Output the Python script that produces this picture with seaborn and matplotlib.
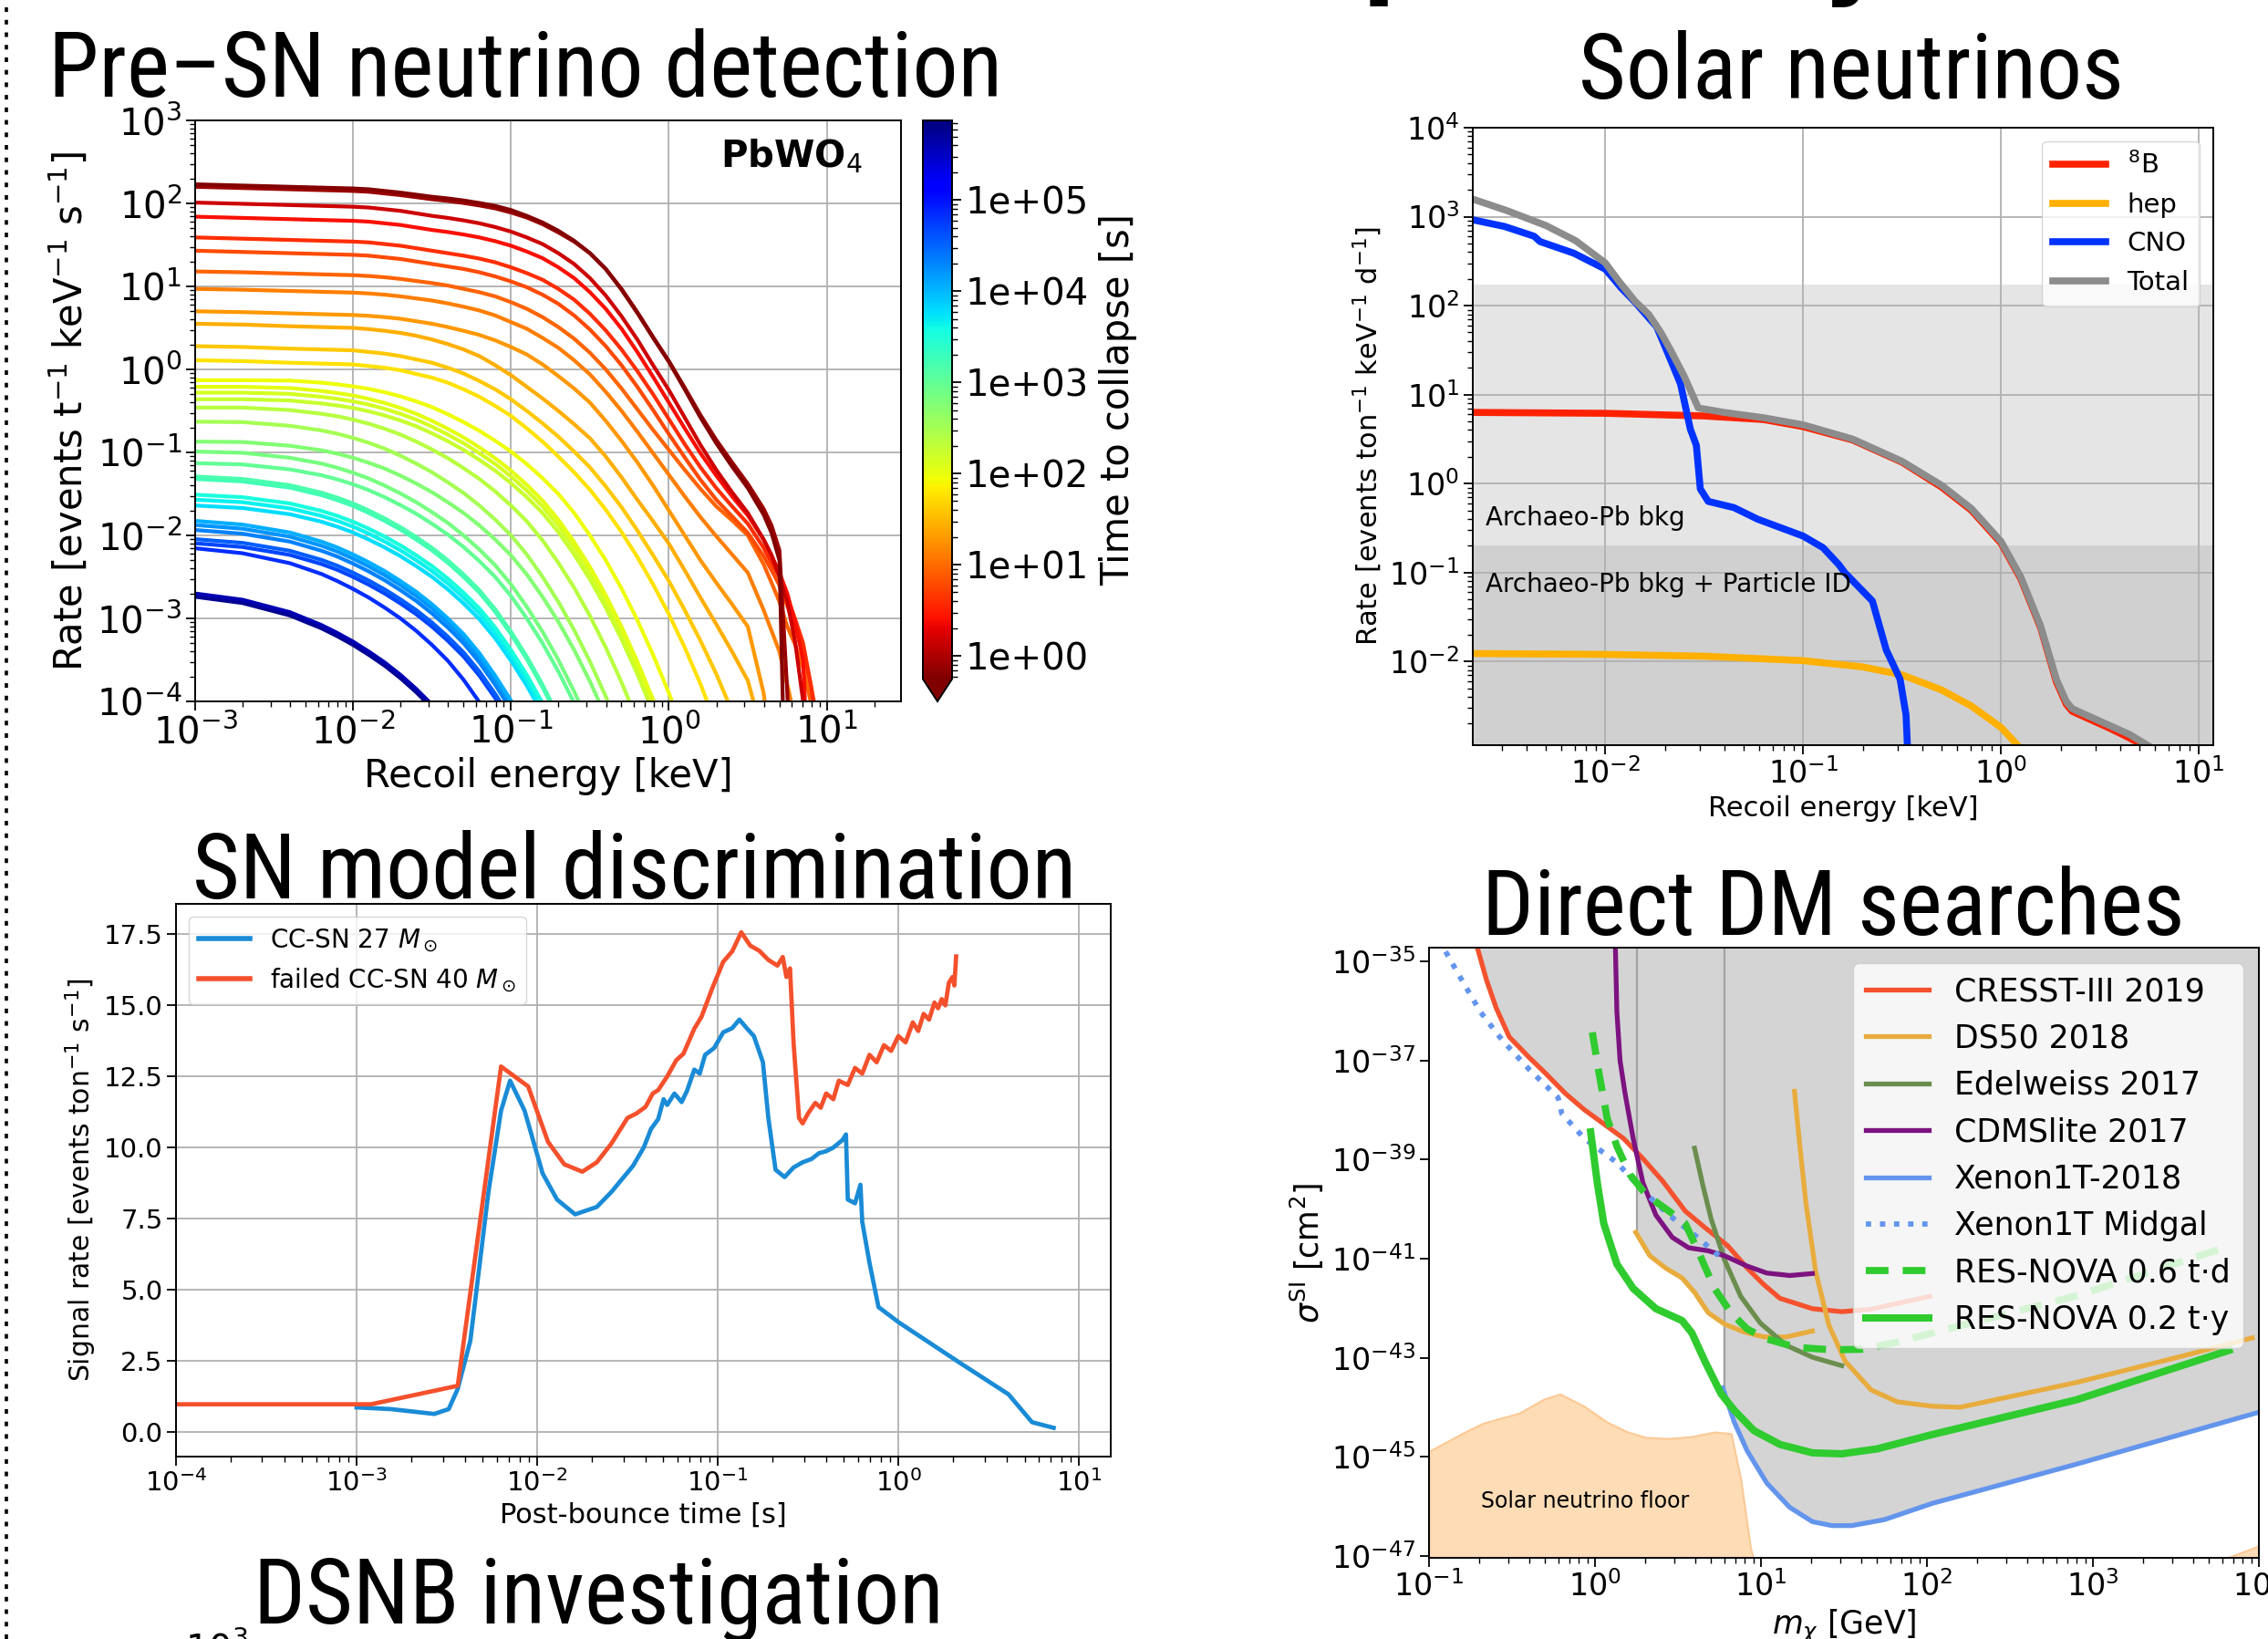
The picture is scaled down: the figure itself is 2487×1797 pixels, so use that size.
import numpy as np
import matplotlib
matplotlib.use("Agg")
import matplotlib.pyplot as plt
import seaborn as sns
from matplotlib import font_manager as fm
from matplotlib.colors import LogNorm
from matplotlib.cm import ScalarMappable
from matplotlib.lines import Line2D
import matplotlib.ticker as mticker

# ------------------------------------------------------------------ data
# Panel 1: Pre-SN neutrino detection
# log10 recoil energy grid [keV]
presn_logE = [-3.0, -2.7, -2.4, -2.2, -2.1, -2.0, -1.9, -1.8, -1.7, -1.6, -1.5, -1.4, -1.3, -1.2, -1.1,
              -1.0, -0.9, -0.8, -0.7, -0.6, -0.5, -0.4, -0.3, -0.2, -0.1, 0.0, 0.1, 0.2, 0.3, 0.4, 0.5,
              0.6, 0.65, 0.7, 0.75, 0.8, 0.85, 0.9, 0.95]
# time to collapse [s] of each curve (colour)
presn_times = [0.6, 0.8, 1.5, 2.5, 4, 6, 9, 13, 20, 28, 40, 60, 90, 110, 140, 180, 230, 330, 550, 700,
               1000, 1500, 1800, 3500, 4500, 6000, 1.2e4, 1.6e4, 2.2e4, 3.5e4, 5e4, 7e4, 4e5, 6e5]
# log10 of the low-energy plateau rate of each curve
presn_plateau = [2.23, 2.20, 2.01, 1.84, 1.59, 1.43, 1.18, 0.97, 0.70, 0.55, 0.28, 0.11, -0.13, -0.21,
                 -0.28, -0.36, -0.46, -0.63, -0.87, -0.99, -1.13, -1.29, -1.32, -1.51, -1.57, -1.64,
                 -1.82, -1.87, -1.93, -2.04, -2.09, -2.14, -2.67, -2.71]
# log10 drop below the plateau, read along the energy grid
drop_c1 = [0, -.015, -.03, -.04, -.045, -.05, -.06, -.08, -.10, -.125, -.15, -.17, -.195, -.225, -.26, -.31,
           -.38, -.46, -.56, -.68, -.83, -1.02, -1.27, -1.55, -1.85, -2.14, -2.47, -2.81, -3.12, -3.40, -3.66,
           -3.98, -4.2, -4.53, -8.5]
drop_c2 = [0, -.015, -.03, -.04, -.045, -.05, -.06, -.08, -.10, -.125, -.15, -.17, -.195, -.225, -.26, -.31,
           -.37, -.45, -.55, -.66, -.80, -.99, -1.23, -1.51, -1.81, -2.10, -2.42, -2.75, -3.05, -3.32, -3.58,
           -3.88, -4.08, -4.38, -6.1, -8.5]
drop_c3 = [0, -.015, -.03, -.04, -.045, -.05, -.06, -.08, -.10, -.13, -.16, -.185, -.215, -.25, -.295, -.35,
           -.42, -.50, -.61, -.74, -.91, -1.12, -1.37, -1.65, -1.96, -2.26, -2.59, -2.92, -3.22, -3.49, -3.74,
           -4.06, -4.25, -4.51, -4.81, -5.3, -6.01, -8.5]
drop_c4 = [0, -.015, -.03, -.04, -.045, -.05, -.06, -.08, -.10, -.13, -.16, -.185, -.215, -.25, -.295, -.35,
           -.42, -.50, -.61, -.74, -.91, -1.11, -1.35, -1.63, -1.93, -2.24, -2.55, -2.85, -3.12, -3.37, -3.6,
           -3.89, -4.08, -4.29, -4.54, -4.9, -5.34, -7.5]
drop_c5 = [0, -.015, -.03, -.04, -.045, -.05, -.06, -.08, -.10, -.13, -.16, -.19, -.22, -.255, -.30, -.36,
           -.43, -.51, -.62, -.75, -.92, -1.12, -1.35, -1.61, -1.89, -2.19, -2.49, -2.77, -3.02, -3.24, -3.45,
           -3.74, -3.92, -4.09, -4.34, -4.6, -4.89, -5.4, -6.09]
drop_c6 = [0, -.015, -.03, -.04, -.045, -.05, -.06, -.08, -.10, -.13, -.16, -.19, -.22, -.26, -.31, -.37,
           -.44, -.53, -.64, -.78, -.95, -1.15, -1.38, -1.64, -1.92, -2.21, -2.49, -2.76, -3.0, -3.2, -3.4,
           -3.68, -3.85, -4.03, -4.28, -4.55, -4.83, -5.25, -5.73]
drop_c7 = [0, -.01, -.025, -.035, -.04, -.045, -.055, -.07, -.09, -.115, -.14, -.17, -.21, -.25, -.30, -.37,
           -.45, -.55, -.67, -.81, -.98, -1.18, -1.41, -1.66, -1.91, -2.15, -2.39, -2.62, -2.83, -3.0, -3.18,
           -3.53, -3.75, -3.98, -4.28, -4.5, -4.78, -5.2, -5.68]
drop_c8 = [0, -.01, -.025, -.035, -.04, -.045, -.055, -.07, -.09, -.115, -.14, -.175, -.215, -.26, -.32, -.40,
           -.48, -.59, -.71, -.86, -1.03, -1.24, -1.47, -1.72, -1.98, -2.24, -2.5, -2.75, -2.98, -3.2, -3.42,
           -3.87, -4.12, -4.37, -4.77, -5.2, -5.57, -7]
drop_c9 = [0, -.01, -.025, -.035, -.04, -.045, -.055, -.07, -.09, -.12, -.15, -.19, -.235, -.285, -.35, -.43,
           -.52, -.64, -.78, -.93, -1.10, -1.32, -1.56, -1.82, -2.1, -2.40, -2.70, -3.0, -3.27, -3.53, -3.8,
           -4.6, -5.3, -7]
drop_c10 = [0, -.01, -.03, -.04, -.045, -.05, -.065, -.085, -.11, -.145, -.19, -.245, -.31, -.39, -.50, -.62,
            -.76, -.90, -1.05, -1.21, -1.38, -1.60, -1.85, -2.12, -2.38, -2.65, -2.97, -3.30, -3.62, -3.95,
            -4.3, -5.0, -7]
drop_c11 = [0, -.01, -.03, -.04, -.045, -.05, -.07, -.09, -.12, -.16, -.20, -.26, -.33, -.42, -.52, -.64,
            -.78, -.93, -1.09, -1.27, -1.46, -1.69, -1.94, -2.22, -2.52, -2.83, -3.18, -3.55, -3.95, -4.4, -6]
drop_c12 = [0, -.01, -.03, -.04, -.045, -.05, -.07, -.09, -.12, -.165, -.21, -.27, -.35, -.44, -.55, -.67,
            -.82, -.98, -1.16, -1.35, -1.56, -1.80, -2.07, -2.37, -2.70, -3.06, -3.46, -3.90, -4.4, -6]
drop_k10 = [0, 0, -.005, -.03, -.05, -.075, -.105, -.145, -.195, -.255, -.325, -.41, -.505, -.61, -.73, -.86,
            -1.01, -1.18, -1.37, -1.60, -1.87, -2.17, -2.51, -2.89, -3.31, -3.77, -4.27, -4.81]
drop_k11 = [0, 0, -.015, -.05, -.075, -.105, -.145, -.195, -.255, -.325, -.41, -.505, -.61, -.73, -.86, -1.01,
            -1.18, -1.37, -1.60, -1.87, -2.17, -2.51, -2.89, -3.31, -3.77, -4.27, -4.81]
drop_k12 = [0, 0, -.03, -.075, -.105, -.145, -.195, -.255, -.325, -.41, -.505, -.61, -.73, -.86, -1.01, -1.18,
            -1.37, -1.60, -1.87, -2.17, -2.51, -2.89, -3.31, -3.77, -4.27, -4.81]
drop_k13 = [0, -.005, -.05, -.105, -.145, -.195, -.255, -.325, -.41, -.505, -.61, -.73, -.86, -1.01, -1.18,
            -1.37, -1.60, -1.87, -2.17, -2.51, -2.89, -3.31, -3.77, -4.27, -4.81]
drop_k14 = [0, -.015, -.075, -.145, -.195, -.255, -.325, -.41, -.505, -.61, -.73, -.86, -1.01, -1.18, -1.37,
            -1.60, -1.87, -2.17, -2.51, -2.89, -3.31, -3.77, -4.27, -4.81]
drop_k15 = [0, -.03, -.105, -.195, -.255, -.325, -.41, -.505, -.61, -.73, -.86, -1.01, -1.18, -1.37, -1.60,
            -1.87, -2.17, -2.51, -2.89, -3.31, -3.77, -4.27, -4.81]
drop_k16 = [-.005, -.05, -.145, -.255, -.325, -.41, -.505, -.61, -.73, -.86, -1.01, -1.18, -1.37, -1.60, -1.87,
            -2.17, -2.51, -2.89, -3.31, -3.77, -4.27, -4.81]
drop_k17 = [-.015, -.075, -.195, -.325, -.41, -.505, -.61, -.73, -.86, -1.01, -1.18, -1.37, -1.60, -1.87, -2.17,
            -2.51, -2.89, -3.31, -3.77, -4.27, -4.81]
drop_k18 = [-.03, -.105, -.255, -.41, -.505, -.61, -.73, -.86, -1.01, -1.18, -1.37, -1.60, -1.87, -2.17, -2.51,
            -2.89, -3.31, -3.77, -4.27, -4.81]
presn_drops = [drop_c1, drop_c2, drop_c3, drop_c4, drop_c5, drop_c6, drop_c7, drop_c8, drop_c9, drop_c10,
               drop_c11, drop_c12, drop_k10, drop_k11, drop_k11, drop_k11, drop_k12, drop_k13, drop_k13,
               drop_k14, drop_k14, drop_k15, drop_k15, drop_k15, drop_k15, drop_k15, drop_k16, drop_k16,
               drop_k16, drop_k16, drop_k16, drop_k17, drop_k18, drop_k18]
cbar_ticks = [1, 10, 100, 1e3, 1e4, 1e5]
cbar_ticklabels = ["1e+00", "1e+01", "1e+02", "1e+03", "1e+04", "1e+05"]

# Panel 2: Solar neutrinos (log10 E [keV], log10 rate)
b8_logE = [-2.66, -2.0, -1.5, -1.2, -1.0, -0.75, -0.5, -0.3, -0.15, 0.0, 0.1, 0.2, 0.28, 0.33, 0.36, 0.45, 0.55, 0.65, 0.74]
b8_logR = [0.80, 0.79, 0.76, 0.72, 0.64, 0.49, 0.24, -0.04, -0.30, -0.67, -1.07, -1.62, -2.23, -2.48, -2.56, -2.65, -2.75, -2.86, -2.97]
hep_logE = [-2.66, -2.0, -1.5, -1.0, -0.7, -0.5, -0.3, -0.15, 0.0, 0.1]
hep_logR = [-1.91, -1.92, -1.94, -1.99, -2.06, -2.15, -2.32, -2.50, -2.74, -2.98]
cno_logE = [-2.66, -2.51, -2.36, -2.33, -2.16, -2.0, -1.92, -1.85, -1.74, -1.67, -1.62, -1.57, -1.54, -1.52,
            -1.48, -1.35, -1.23, -1.0, -0.9, -0.82, -0.79, -0.65, -0.58, -0.51, -0.48, -0.47]
cno_logR = [2.96, 2.89, 2.78, 2.72, 2.59, 2.41, 2.20, 2.04, 1.76, 1.39, 1.12, 0.61, 0.43, -0.06,
            -0.20, -0.27, -0.40, -0.59, -0.72, -0.91, -1.0, -1.32, -1.87, -2.2, -2.6, -3.1]
total_logE = [-2.66, -2.5, -2.3, -2.15, -2.0, -1.93, -1.85, -1.78, -1.72, -1.67, -1.6, -1.53, -1.4, -1.2, -1.0,
              -0.75, -0.5, -0.3, -0.15, 0.0, 0.1, 0.2, 0.28, 0.33, 0.36, 0.45, 0.55, 0.65, 0.74]
total_logR = [3.19, 3.07, 2.9, 2.73, 2.48, 2.27, 2.05, 1.9, 1.7, 1.5, 1.2, 0.85, 0.8, 0.74, 0.66,
              0.5, 0.25, -0.02, -0.28, -0.65, -1.05, -1.6, -2.2, -2.45, -2.53, -2.62, -2.72, -2.82, -2.94]
bkg_levels = [172.0, 0.2]

# Panel 3: SN model discrimination (log10 t [s], rate)
ccsn27_logt = [-3.0, -2.81, -2.57, -2.49, -2.44, -2.37, -2.27, -2.20, -2.15, -2.07, -1.97, -1.89, -1.79, -1.67,
               -1.59, -1.47, -1.41, -1.37, -1.33, -1.30, -1.28, -1.24, -1.20, -1.17, -1.13, -1.10, -1.07, -1.02,
               -0.97, -0.92, -0.88, -0.84, -0.80, -0.75, -0.72, -0.68, -0.63, -0.58, -0.53, -0.48, -0.44, -0.40,
               -0.36, -0.31, -0.29, -0.28, -0.24, -0.21, -0.20, -0.16, -0.11, 0.0, 0.34, 0.61, 0.74, 0.86]
ccsn27_rate = [0.86, 0.80, 0.63, 0.80, 1.51, 3.21, 8.43, 11.3, 12.35, 11.3, 9.09, 8.17, 7.65, 7.91,
               8.43, 9.35, 10.0, 10.65, 11.0, 11.7, 11.5, 11.9, 11.6, 12.0, 12.74, 12.6, 13.26, 13.5,
               14.05, 14.2, 14.50, 14.2, 13.92, 13.0, 11.04, 9.22, 8.96, 9.3, 9.48, 9.6, 9.8, 9.87,
               10.0, 10.26, 10.46, 8.17, 8.04, 8.69, 7.39, 5.95, 4.39, 3.86, 2.43, 1.32, 0.34, 0.14]
ccsn40_logt = [-4.0, -2.92, -2.44, -2.20, -2.05, -1.94, -1.85, -1.75, -1.67, -1.59, -1.50, -1.45, -1.40, -1.36,
               -1.33, -1.28, -1.23, -1.19, -1.13, -1.09, -1.03, -0.97, -0.92, -0.87, -0.82, -0.77, -0.72, -0.67,
               -0.64, -0.62, -0.60, -0.58, -0.55, -0.53, -0.50, -0.46, -0.43, -0.40, -0.36, -0.33, -0.28, -0.24,
               -0.20, -0.16, -0.12, -0.08, -0.04, 0.0, 0.04, 0.08, 0.11, 0.14, 0.17, 0.20, 0.22, 0.24, 0.26,
               0.28, 0.30, 0.31, 0.32]
ccsn40_rate = [0.97, 0.97, 1.62, 12.85, 12.15, 10.2, 9.41, 9.15, 9.48, 10.13, 11.04, 11.2, 11.43, 11.9,
               12.02, 12.5, 13.07, 13.3, 14.18, 14.6, 15.61, 16.53, 16.9, 17.57, 17.1, 16.92, 16.6, 16.40,
               16.7, 16.0, 16.3, 13.66, 11.04, 10.85, 11.2, 11.57, 11.4, 11.9, 11.7, 12.35, 12.2, 12.8,
               12.6, 13.26, 13.0, 13.6, 13.4, 13.92, 13.7, 14.4, 14.1, 14.70, 14.5, 15.1, 14.9, 15.22, 15.0,
               15.8, 16.0, 15.7, 16.72]

# Panel 4: Direct DM searches (log10 m [GeV], log10 sigma [cm^2])
cresst_logm = [-0.74, -0.713, -0.654, -0.595, -0.517, -0.399, -0.30, -0.18, -0.065, 0.053, 0.171, 0.289, 0.407,
               0.544, 0.662, 0.80, 0.917, 1.016, 1.114, 1.31, 1.487, 1.664, 2.018]
cresst_logs = [-34.3, -34.67, -35.37, -35.94, -36.52, -36.93, -37.25, -37.66, -37.99, -38.28, -38.57, -38.98, -39.43,
               -40.04, -40.37, -40.74, -41.19, -41.52, -41.80, -42.01, -42.07, -42.02, -41.76]
ds50_low_logm = [0.246, 0.33, 0.426, 0.525, 0.60, 0.682, 0.78, 0.898, 1.016, 1.153, 1.31]
ds50_low_logs = [-40.47, -40.94, -41.19, -41.39, -41.68, -42.09, -42.32, -42.48, -42.58, -42.58, -42.46]
ds50_high_logm = [1.202, 1.232, 1.271, 1.33, 1.409, 1.507, 1.664, 1.821, 2.033, 2.2, 2.9, 3.5, 3.96]
ds50_high_logs = [-37.62, -38.65, -39.88, -41.27, -42.34, -43.07, -43.65, -43.89, -43.98, -44.0, -43.5, -43.0, -42.6]
edel_logm = [0.60, 0.652, 0.70, 0.78, 0.878, 0.996, 1.153, 1.31, 1.487]
edel_logs = [-38.77, -39.55, -40.2, -41.02, -41.76, -42.30, -42.75, -42.99, -43.16]
cdms_logm = [0.12, 0.132, 0.151, 0.181, 0.23, 0.289, 0.367, 0.466, 0.564, 0.682, 0.78, 0.917, 1.035, 1.173, 1.31]
cdms_logs = [-34.3, -36.02, -37.0, -37.66, -38.57, -39.47, -40.12, -40.57, -40.78, -40.84, -40.94, -41.15, -41.29, -41.34, -41.30]
xenon_logm = [0.77, 0.839, 0.917, 1.035, 1.173, 1.31, 1.428, 1.546, 1.743, 2.033, 2.9, 4.0]
xenon_logs = [-43.61, -44.30, -44.88, -45.53, -46.02, -46.31, -46.39, -46.39, -46.27, -45.94, -45.15, -44.1]
midgal_logm = [-0.9, -0.81, -0.69, -0.556, -0.399, -0.222, -0.20, -0.065, 0.132, 0.289, 0.446, 0.603, 0.76]
midgal_logs = [-34.8, -35.33, -36.02, -36.60, -37.17, -37.75, -38.07, -38.57, -39.06, -39.63, -40.12, -40.53, -40.98]
resnova_td_logm = [-0.016, 0.024, 0.073, 0.132, 0.21, 0.308, 0.446, 0.544, 0.623, 0.72, 0.819, 0.917, 1.035, 1.212,
                   1.428, 1.605, 1.80, 2.033, 2.9, 3.80]
resnova_td_logs = [-36.43, -37.25, -38.16, -38.73, -39.30, -39.71, -40.04, -40.29, -40.86, -41.60, -42.09, -42.42, -42.62,
                   -42.79, -42.84, -42.83, -42.70, -42.50, -41.75, -40.77]
resnova_ty_logm = [-0.026, 0.014, 0.053, 0.132, 0.23, 0.367, 0.525, 0.584, 0.662, 0.76, 0.839, 0.957, 1.114, 1.31,
                   1.487, 1.70, 2.033, 2.9, 3.82]
resnova_ty_logs = [-38.44, -39.47, -40.29, -41.11, -41.60, -42.01, -42.25, -42.50, -43.07, -43.73, -44.06, -44.47, -44.75,
                   -44.92, -44.94, -44.84, -44.55, -43.85, -42.85]
floor_logm = [-1.0, -0.79, -0.674, -0.458, -0.31, -0.212, -0.065, 0.073, 0.19, 0.308, 0.446, 0.584, 0.72, 0.82,
              0.878, 0.937, 0.957]
floor_logs = [-44.89, -44.51, -44.32, -44.12, -43.84, -43.73, -43.98, -44.30, -44.49, -44.61, -44.63, -44.59, -44.50,
              -44.53, -45.45, -46.84, -47.1]
floor2_logm = [3.62, 3.8, 4.0]
floor2_logs = [-47.3, -47.05, -46.8]
excl_edge_logm = [0.255, 0.78]
excl_edge_logs = [-40.47, -43.61]

dm_labels = ["CRESST-III 2019", "DS50 2018", "Edelweiss 2017", "CDMSlite 2017", "Xenon1T-2018",
             "Xenon1T Midgal", "RES-NOVA 0.6 t\u00b7d", "RES-NOVA 0.2 t\u00b7y"]

# ------------------------------------------------------------------ style
W, H, DPI = 2487, 1797, 100
plt.rcParams.update({
    "font.family": ["DejaVu Sans"],
    "mathtext.fontset": "dejavusans",
    "axes.linewidth": 1.4,
    "xtick.major.size": 7, "ytick.major.size": 7,
    "xtick.minor.size": 4, "ytick.minor.size": 4,
    "xtick.major.width": 1.3, "ytick.major.width": 1.3,
    "xtick.minor.width": 1.0, "ytick.minor.width": 1.0,
    "grid.color": "#b0b0b0", "grid.linewidth": 1.3,
})

names = {f.name for f in fm.fontManager.ttflist}
title_family, title_size, title_stretch = "Liberation Sans", 67, "normal"
for n, s in [("Liberation Sans Narrow", 75), ("Arial Narrow", 75), ("Roboto Condensed", 72),
             ("DejaVu Sans Condensed", 67), ("Open Sans Condensed", 70), ("Noto Sans Condensed", 70)]:
    if n in names:
        title_family, title_size = n, s
        break
else:
    for f in fm.fontManager.ttflist:
        if f.name == "DejaVu Sans" and "condensed" in str(f.stretch):
            title_family, title_size, title_stretch = "DejaVu Sans", 67, "condensed"
            break

fig = plt.figure(figsize=(W / DPI, H / DPI), dpi=DPI)


def rect(l, t, r, b):
    return [l / W, 1 - b / H, (r - l) / W, (b - t) / H]


def line(ax, lx, ly, log_y=True, **kw):
    x = 10.0 ** np.asarray(lx, dtype=float)
    y = 10.0 ** np.asarray(ly, dtype=float) if log_y else np.asarray(ly, dtype=float)
    sns.lineplot(x=x, y=y, ax=ax, estimator=None, sort=False, **kw)


# ------------------------------------------------------------------ panel 1
ax1 = fig.add_axes(rect(214, 132, 988, 769))
ax1.set_xscale("log"); ax1.set_yscale("log")
norm = LogNorm(vmin=0.56, vmax=7.5e5)
cmap = plt.get_cmap("jet_r")
for t, p, drop in list(zip(presn_times, presn_plateau, presn_drops))[::-1]:
    logr = p + np.asarray(drop)
    line(ax1, presn_logE[:len(drop)], logr, color=cmap(norm(t)), lw=3)
ax1.set_xlim(1e-3, 29.5); ax1.set_ylim(1e-4, 1e3)
ax1.grid(True, which="major")
ax1.tick_params(labelsize=29)
ax1.set_xlabel("Recoil energy [keV]", fontsize=30)
ax1.set_ylabel(r"Rate [events t$^{-1}$ keV$^{-1}$ s$^{-1}$]", fontsize=30)
ax1.text(0.945, 0.97, "PbWO$_4$", transform=ax1.transAxes, ha="right", va="top", fontsize=29, weight="bold")

cax = fig.add_axes(rect(1012, 132, 1044, 769))
cb = fig.colorbar(ScalarMappable(norm=norm, cmap=cmap), cax=cax, extend="min", extendfrac=0.04)
cb.set_ticks(cbar_ticks)
cb.set_ticklabels(cbar_ticklabels)
cb.ax.tick_params(labelsize=29)
cb.set_label("Time to collapse [s]", fontsize=30, labelpad=8)

# ------------------------------------------------------------------ panel 2
ax2 = fig.add_axes(rect(1615, 140, 2427, 817))
ax2.set_xscale("log"); ax2.set_yscale("log")
ax2.axhspan(1e-5, bkg_levels[0], color="grey", alpha=0.2, lw=0, zorder=0.5)
ax2.axhspan(1e-5, bkg_levels[1], color="grey", alpha=0.2, lw=0, zorder=0.6)
c_b8, c_hep, c_cno, c_tot = "#ff2200", "#ffb000", "#0033ff", "#8c8c8c"
line(ax2, b8_logE, b8_logR, color=c_b8, lw=5.5)
line(ax2, hep_logE, hep_logR, color=c_hep, lw=5.5)
line(ax2, cno_logE, cno_logR, color=c_cno, lw=5.5)
line(ax2, total_logE, total_logR, color=c_tot, lw=5.5)
ax2.set_xlim(10 ** -2.67, 10 ** 1.073); ax2.set_ylim(10 ** -2.94, 1e4)
ax2.grid(True, which="major")
ax2.tick_params(labelsize=24)
ax2.set_xlabel("Recoil energy [keV]", fontsize=22)
ax2.set_ylabel(r"Rate [events ton$^{-1}$ keV$^{-1}$ d$^{-1}$]", fontsize=22)
ax2.text(10 ** -2.605, 10 ** -0.385, "Archaeo-Pb bkg", fontsize=20, va="center")
ax2.text(10 ** -2.605, 10 ** -1.14, "Archaeo-Pb bkg + Particle ID", fontsize=20, va="center")
h2 = [Line2D([], [], color=c, lw=5.5) for c in (c_b8, c_hep, c_cno, c_tot)]
ax2.legend(h2, [r"$^8$B", "hep", "CNO", "Total"], loc="upper right", fontsize=21, handlelength=2.0)

# ------------------------------------------------------------------ panel 3
ax3 = fig.add_axes(rect(193, 991, 1218, 1597))
ax3.set_xscale("log")
c27, c40 = "#1a8bd6", "#f4502c"
line(ax3, ccsn27_logt, ccsn27_rate, log_y=False, color=c27, lw=3.4)
line(ax3, ccsn40_logt, ccsn40_rate, log_y=False, color=c40, lw=3.4)
ax3.set_xlim(1e-4, 15); ax3.set_ylim(-0.87, 18.57)
ax3.set_yticks([0, 2.5, 5, 7.5, 10, 12.5, 15, 17.5])
ax3.grid(True, which="major")
ax3.tick_params(labelsize=21)
ax3.set_xlabel("Post-bounce time [s]", fontsize=22)
ax3.set_ylabel(r"Signal rate [events ton$^{-1}$ s$^{-1}$]", fontsize=21.5)
h3 = [Line2D([], [], color=c, lw=4) for c in (c27, c40)]
ax3.legend(h3, [r"CC-SN 27 $M_\odot$", r"failed CC-SN 40 $M_\odot$"], loc="upper left", fontsize=20,
           handlelength=2.0)

# ------------------------------------------------------------------ panel 4
ax4 = fig.add_axes(rect(1567, 1039, 2477, 1708))
ax4.set_xscale("log"); ax4.set_yscale("log")
grey = "#d4d4d4"
for lm, ls, n in [(cresst_logm, cresst_logs, 12), (ds50_low_logm, ds50_low_logs, 7), (xenon_logm, xenon_logs, None)]:
    m = 10.0 ** np.asarray(lm[:n]); s = 10.0 ** np.asarray(ls[:n])
    ax4.fill_between(m, s, 1e-30, color=grey, lw=0, zorder=0.5)
for em, es in zip(excl_edge_logm, excl_edge_logs):
    ax4.plot([10 ** em, 10 ** em], [10 ** es, 1e-30], color="#a3a3a3", lw=1.6, zorder=0.7)
for lm, ls in [(floor_logm, floor_logs), (floor2_logm, floor2_logs)]:
    ax4.fill_between(10.0 ** np.asarray(lm), 1e-50, 10.0 ** np.asarray(ls),
                     facecolor="#fddcb6", edgecolor="#fcc995", lw=1.5, zorder=0.6)
dm_styles = [
    ("#f4522e", "-", 3.8), ("#e8ac3e", "-", 3.8), ("#6b8e4e", "-", 3.8), ("#7d1380", "-", 3.8),
    ("#6495ed", "-", 3.8), ("#6495ed", ":", 4.2), ("#2fcb2f", (0, (3.2, 2.0)), 5.6), ("#2fcb2f", "-", 5.8),
]
line(ax4, cresst_logm, cresst_logs, color=dm_styles[0][0], lw=dm_styles[0][2])
line(ax4, ds50_low_logm, ds50_low_logs, color=dm_styles[1][0], lw=dm_styles[1][2])
line(ax4, ds50_high_logm, ds50_high_logs, color=dm_styles[1][0], lw=dm_styles[1][2])
line(ax4, edel_logm, edel_logs, color=dm_styles[2][0], lw=dm_styles[2][2])
line(ax4, cdms_logm, cdms_logs, color=dm_styles[3][0], lw=dm_styles[3][2])
line(ax4, xenon_logm, xenon_logs, color=dm_styles[4][0], lw=dm_styles[4][2])
line(ax4, midgal_logm, midgal_logs, color=dm_styles[5][0], lw=dm_styles[5][2], linestyle=dm_styles[5][1])
line(ax4, resnova_td_logm, resnova_td_logs, color=dm_styles[6][0], lw=dm_styles[6][2], linestyle=dm_styles[6][1])
line(ax4, resnova_ty_logm, resnova_ty_logs, color=dm_styles[7][0], lw=dm_styles[7][2])
ax4.set_xlim(0.1, 1e4); ax4.set_ylim(10 ** -47.04, 10 ** -34.72)
ax4.set_yticks(10.0 ** np.arange(-47, -34, 2))
ax4.yaxis.set_minor_locator(mticker.NullLocator())
ax4.tick_params(labelsize=24)
ax4.set_xlabel(r"$m_\chi$ [GeV]", fontsize=25)
ax4.set_ylabel(r"$\sigma^{\rm SI}$ [cm$^2$]", fontsize=25)
ax4.text(10 ** -0.06, 10 ** -45.9, "Solar neutrino floor", fontsize=17, ha="center", va="center")
h4 = [Line2D([], [], color=c, linestyle=ls, lw=lw) for c, ls, lw in dm_styles]
ax4.legend(h4, dm_labels, loc="upper right", fontsize=25, handlelength=2.0)

# ------------------------------------------------------------------ titles & decorations
titles = [("Pre\u2013SN neutrino detection", 576, 106), ("Solar neutrinos", 2030, 108),
          ("SN model discrimination", 696, 985), ("Direct DM searches", 2010, 1025),
          ("DSNB investigation", 656, 1780)]
for txt, x, y in titles:
    fig.text(x / W, 1 - y / H, txt, ha="center", va="baseline", fontsize=title_size,
             family=title_family, stretch=title_stretch)
# cut-off heading above the figure
fig.text(1532 / W, 1 + 16 / H, "p", ha="center", va="baseline", fontsize=80, weight="bold")
fig.text(2034 / W, 1 + 16 / H, "y", ha="center", va="baseline", fontsize=80, weight="bold")
# cut-off tick label of the next (DSNB) panel
fig.text(238 / W, 1 - 1789 / H, r"$10^3$", ha="center", va="top", fontsize=29)
# dotted separator on the left edge
fig.add_artist(Line2D([7 / W, 7 / W], [0, 1], transform=fig.transFigure, color="black", lw=2.6,
                      linestyle=(0, (1.4, 2.4))))

fig.savefig("out.png", dpi=DPI)
